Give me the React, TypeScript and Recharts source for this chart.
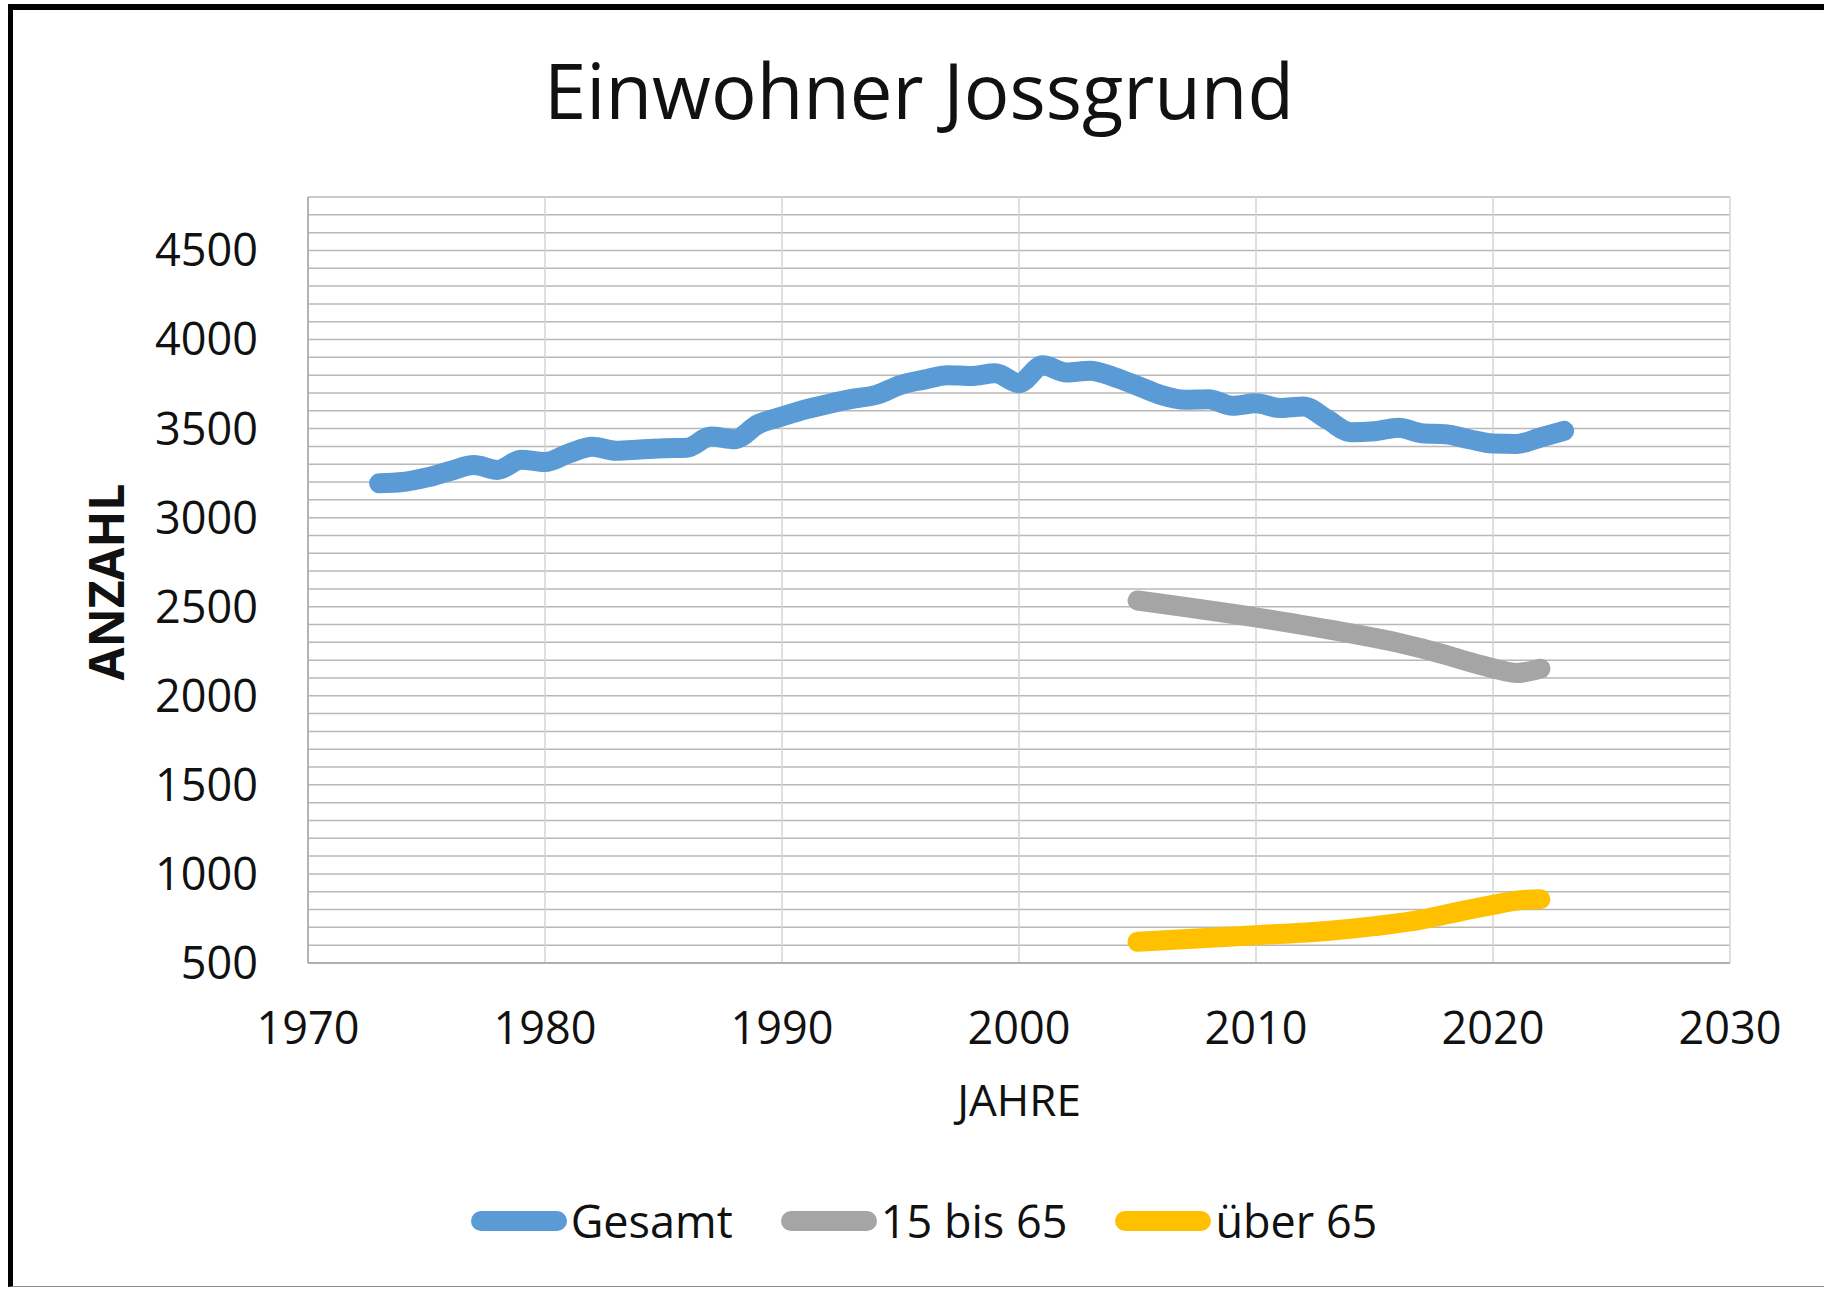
import React from 'react';
import { LineChart, Line, XAxis, YAxis, CartesianGrid } from 'recharts';

const FONT = "'Open Sans', 'Noto Sans', sans-serif";

// Einwohner gesamt (jährlich)
const gesamtYears = [
  1973, 1974, 1975, 1976, 1977, 1978, 1979, 1980, 1981, 1982, 1983, 1984, 1985, 1986, 1987, 1988, 1989,
  1990, 1991, 1992, 1993, 1994, 1995, 1996, 1997, 1998, 1999, 2000, 2001, 2002, 2003, 2004, 2005, 2006,
  2007, 2008, 2009, 2010, 2011, 2012, 2013, 2014, 2015, 2016, 2017, 2018, 2019, 2020, 2021, 2022, 2023,
];
const gesamtValues = [
  3193, 3200, 3225, 3262, 3295, 3268, 3325, 3312, 3360, 3398, 3375, 3382, 3390, 3393, 3455, 3440, 3525,
  3568, 3608, 3640, 3668, 3690, 3745, 3775, 3800, 3795, 3810, 3755, 3855, 3815, 3825, 3790, 3740, 3688,
  3662, 3665, 3628, 3642, 3615, 3624, 3552, 3480, 3485, 3505, 3474, 3468, 3440, 3416, 3414, 3450, 3487,
];

// 15 bis 65
const mittelYears = [2005, 2010, 2014, 2016, 2018, 2019, 2020, 2021, 2022];
const mittelValues = [2535, 2440, 2350, 2298, 2230, 2190, 2155, 2128, 2152];

// über 65
const seniorYears = [2005, 2010, 2013, 2015, 2017, 2018, 2019, 2020, 2021, 2022];
const seniorValues = [619, 656, 680, 707, 744, 772, 800, 826, 850, 858];

const xTicks = [1970, 1980, 1990, 2000, 2010, 2020, 2030];
const yLabels = [500, 1000, 1500, 2000, 2500, 3000, 3500, 4000, 4500];
const Y_MIN = 500;
const Y_MAX = 4800;
const Y_STEP = 100;

const series = [
  { name: 'Gesamt', color: '#5B9BD5', years: gesamtYears, values: gesamtValues },
  { name: '15 bis 65', color: '#A5A5A5', years: mittelYears, values: mittelValues },
  { name: 'über 65', color: '#FFC000', years: seniorYears, values: seniorValues },
];

const toRows = (years: number[], values: number[]) => years.map((year, i) => ({ year, value: values[i] }));

// minor gridlines every 100, only every 500 gets a label
const yTicks: number[] = [];
for (let v = Y_MIN; v <= Y_MAX; v += Y_STEP) yTicks.push(v);

const LINE_W = 20;

export default function App() {
  return (
    <div style={{ position: 'absolute', left: 0, top: 0, width: 1824, height: 1289, background: '#fff', overflow: 'hidden', fontFamily: FONT }}>
      {/* frame */}
      <div style={{
        position: 'absolute', left: 8, top: 4, width: 1816, height: 1283, boxSizing: 'border-box',
        borderTop: '6px solid #000', borderLeft: '5px solid #000', borderBottom: '1px solid #8a8a8a',
      }} />

      <LineChart width={1824} height={1289} margin={{ top: 197, right: 94, bottom: 0, left: 0 }}
                 style={{ position: 'absolute', left: 0, top: 0 }}>
        <CartesianGrid vertical={false} stroke="#b8b8b8" strokeWidth={1.5} />
        <CartesianGrid horizontal={false} stroke="#d4d4d4" strokeWidth={1.5} />
        <XAxis type="number" dataKey="year" domain={[1970, 2030]} ticks={xTicks} interval={0}
               allowDuplicatedCategory={false}
               height={326} tickSize={0} tickMargin={49}
               axisLine={{ stroke: '#a6a6a6', strokeWidth: 1.5 }} tickLine={false}
               tick={{ fill: '#111', fontSize: 45, fontFamily: FONT }}
               label={{ value: 'JAHRE', position: 'insideTop', offset: 122, fill: '#111', fontSize: 44, fontFamily: FONT }} />
        <YAxis type="number" domain={[Y_MIN, Y_MAX]} ticks={yTicks} interval={0} width={308}
               tickSize={0} tickMargin={50}
               axisLine={{ stroke: '#a6a6a6', strokeWidth: 1.5 }} tickLine={false}
               tick={{ fill: '#111', fontSize: 45, fontFamily: FONT }}
               tickFormatter={(v: number) => (yLabels.includes(v) ? String(v) : '')} />
        {series.map(s => (
          <Line key={s.name} data={toRows(s.years, s.values)} dataKey="value" name={s.name}
                type="monotone" stroke={s.color} strokeWidth={LINE_W}
                strokeLinecap="round" strokeLinejoin="round"
                dot={false} activeDot={false} isAnimationActive={false} />
        ))}
      </LineChart>

      {/* title and y label */}
      <svg width={1824} height={1289} style={{ position: 'absolute', left: 0, top: 0, pointerEvents: 'none' }}>
        <text x={919} y={119} textAnchor="middle" fontSize={76} fontFamily={FONT} fill="#111">Einwohner Jossgrund</text>
        <text transform="translate(124,582) rotate(-90)" textAnchor="middle" fontSize={48} fontWeight={700}
              fontFamily={FONT} fill="#111">ANZAHL</text>
      </svg>

      {/* legend */}
      <div style={{
        position: 'absolute', left: 12, top: 1194, width: 1824, height: 54,
        display: 'flex', justifyContent: 'center', alignItems: 'center',
      }}>
        {series.map((s, i) => (
          <div key={s.name} style={{ display: 'flex', alignItems: 'center', marginLeft: i === 0 ? 0 : 48 }}>
            <svg width={96} height={22} style={{ marginRight: 4 }}>
              <line x1={10} y1={11} x2={86} y2={11} stroke={s.color} strokeWidth={LINE_W} strokeLinecap="round" />
            </svg>
            <span style={{ fontSize: 45, lineHeight: '54px', color: '#111' }}>{s.name}</span>
          </div>
        ))}
      </div>
    </div>
  );
}
